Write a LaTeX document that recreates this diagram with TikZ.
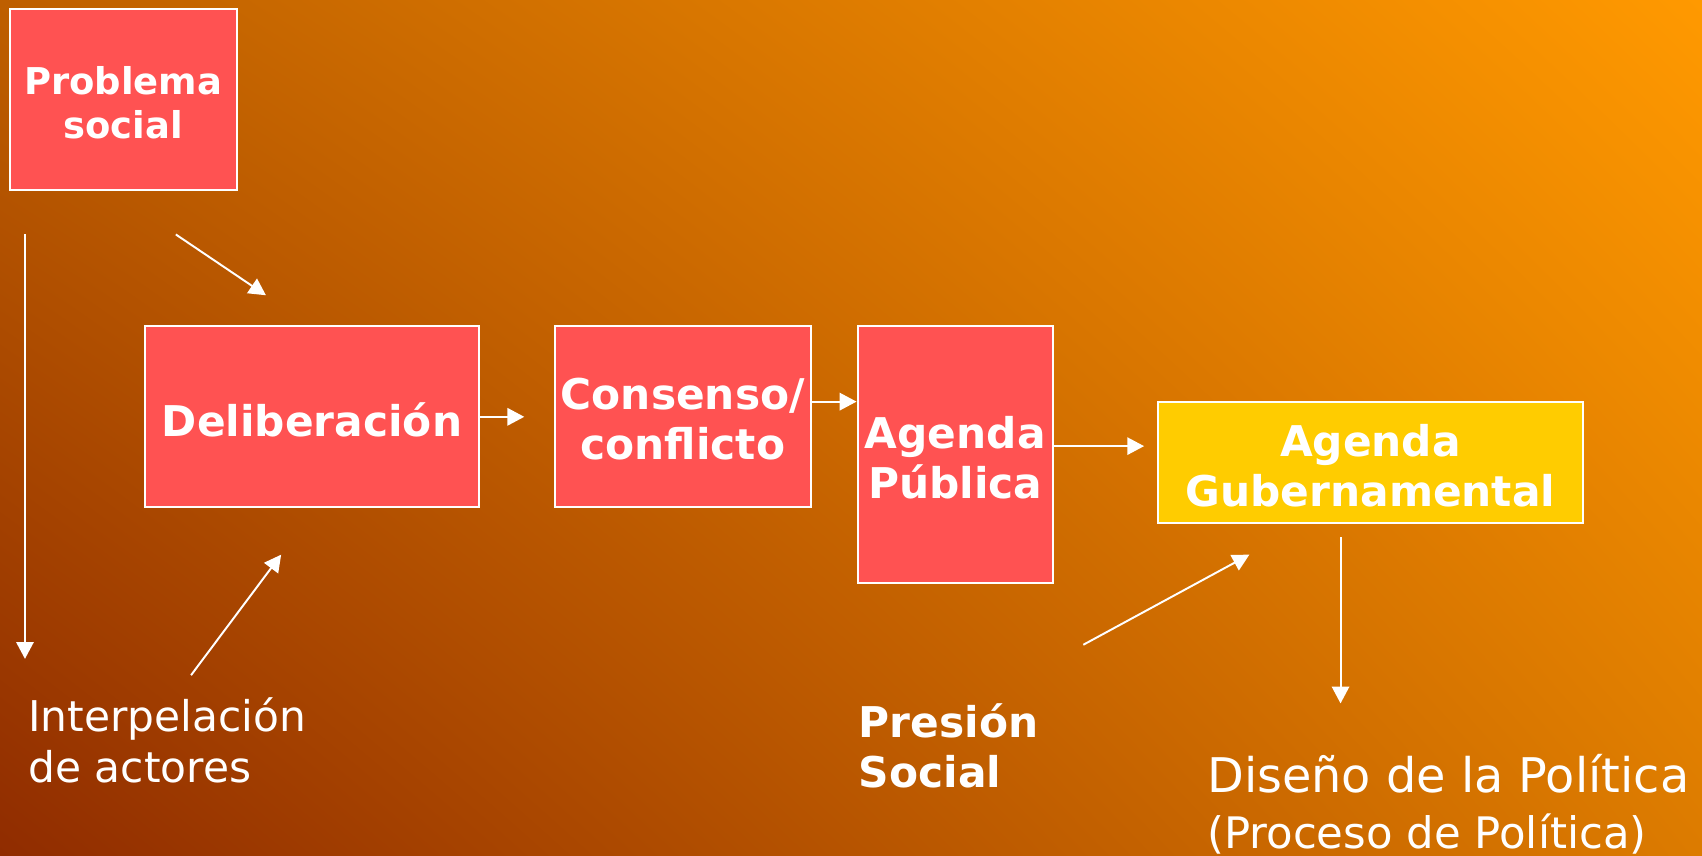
\documentclass[tikz,border=0pt]{standalone}
\usepackage{fontspec}
\setmainfont{DejaVu Sans}
\usetikzlibrary{arrows.meta,shadings}
\definecolor{bgLL}{HTML}{902C00}
\definecolor{bgUR}{HTML}{FF9900}
\definecolor{bgUL}{HTML}{BE5F00}
\definecolor{bgLR}{HTML}{DC7B00}
\definecolor{boxred}{HTML}{FF5252}
\definecolor{boxyel}{HTML}{FFCC00}
\tikzset{
  box/.style={draw=white, line width=1.8pt, fill=boxred, inner sep=0pt},
  boxtext/.style={text=white, align=center, inner sep=0pt, yshift=-3pt,
    font=\bfseries\fontsize{39}{46}\selectfont},
  arr/.style={draw=white, line width=1.8pt, -{Triangle[length=15.5pt,width=16pt]}},
  lbl/.style={text=white, align=left, inner sep=0pt, anchor=west}
}
\begin{document}
\begin{tikzpicture}[x=1pt,y=-1pt]
\shade[upper left=bgUL, upper right=bgUR, lower left=bgLL, lower right=bgLR] (0,0) rectangle (1568,788);
\useasboundingbox (0,0) rectangle (1568,788);

% boxes
\node[box, minimum width=209pt, minimum height=167pt,
  label={[boxtext, font=\bfseries\fontsize{34}{41}\selectfont]center:{Problema\\social}}] (ps) at (113.5,91.5) {};
\node[box, minimum width=307pt, minimum height=167pt,
  label={[boxtext]center:{Deliberación}}] (del) at (287.5,383.5) {};
\node[box, minimum width=236pt, minimum height=167pt,
  label={[boxtext]center:{Consenso/\\conflicto}}] (con) at (629,383.5) {};
\node[box, minimum width=180pt, minimum height=237pt,
  label={[boxtext]center:{Agenda\\Pública}}] (ap) at (880,418.5) {};
\node[box, fill=boxyel, minimum width=391pt, minimum height=112pt,
  label={[boxtext]center:{Agenda\\Gubernamental}}] (ag) at (1262.5,426) {};

% free labels
\node[lbl, font=\fontsize{39}{47}\selectfont] (ia) at (26,682.5) {Interpelación\\de actores};
\node[lbl, font=\bfseries\fontsize{39}{46}\selectfont] (presion) at (791,687) {Presión\\Social};
\node[lbl, font=\fontsize{44}{51}\selectfont] (dis) at (1112,741) {Diseño de la Política\\{\fontsize{40}{51}\selectfont (Proceso de Política)}};

% coordinates
\coordinate (a1s) at (23,216);   \coordinate (a1e) at (23,607);
\coordinate (a2s) at (162,216);  \coordinate (a2e) at (245,272);
\coordinate (a3s) at (176,622);  \coordinate (a3e) at (259,511);
\coordinate (a4e) at (483,384);
\coordinate (a5) at (0,370);
\coordinate (a6e) at (1054,411);
\coordinate (a7s) at (998,594);  \coordinate (a7e) at (1151,511);
\coordinate (a8s) at (1235,495); \coordinate (a8e) at (1235,648);

% arrows
\draw[arr] (a1s) -- (a1e);
\draw[arr] (a2s) -- (a2e);
\draw[arr] (a3s) -- (a3e);
\draw[arr] (del.east |- a4e) -- (a4e);
\draw[arr] (con.east |- a5) -- (ap.west |- a5);
\draw[arr] (ap.east |- a6e) -- (a6e);
\draw[arr] (a7s) -- (a7e);
\draw[arr] (a8s) -- (a8e);
\end{tikzpicture}
\end{document}
